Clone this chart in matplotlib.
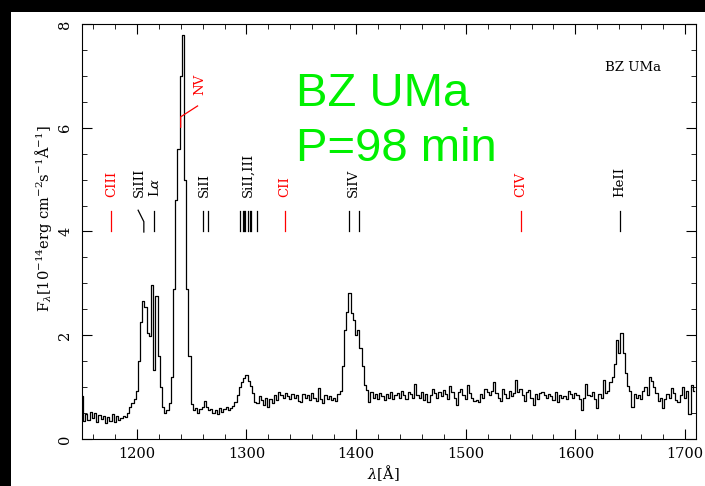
import numpy as np
import matplotlib
matplotlib.use("Agg")
import matplotlib.pyplot as plt
from matplotlib.patches import Rectangle

plt.rcParams['font.family'] = ['DejaVu Serif']
plt.rcParams['mathtext.fontset'] = 'dejavuserif'

# spectrum sampled every 2 A from 1150 A
wave_start = 1150.0
wave_step = 2.0
flux = [
    0.82, 0.34, 0.48, 0.36, 0.52, 0.40, 0.50, 0.33, 0.46, 0.38,   # 1150
    0.44, 0.30, 0.42, 0.35, 0.48, 0.32, 0.45, 0.36, 0.40, 0.44,   # 1170
    0.42, 0.50, 0.62, 0.70, 0.78, 0.92, 1.50, 2.25, 2.66, 2.55,   # 1190
    2.05, 1.98, 2.97, 1.33, 2.76, 1.60, 1.00, 0.62, 0.50, 0.55,   # 1210
    0.70, 1.20, 2.90, 4.60, 5.60, 7.00, 7.78, 5.00, 2.90, 1.60,   # 1230
    0.68, 0.55, 0.60, 0.50, 0.58, 0.62, 0.74, 0.62, 0.55, 0.58,   # 1250
    0.50, 0.56, 0.48, 0.60, 0.52, 0.58, 0.62, 0.55, 0.60, 0.64,   # 1270
    0.72, 0.85, 1.00, 1.10, 1.18, 1.24, 1.12, 1.02, 0.88, 0.72,   # 1290
    0.70, 0.82, 0.75, 0.66, 0.80, 0.62, 0.78, 0.70, 0.84, 0.76,   # 1310
    0.90, 0.85, 0.80, 0.88, 0.83, 0.78, 0.86, 0.80, 0.84, 0.74,   # 1330
    0.72, 0.86, 0.80, 0.84, 0.76, 0.88, 0.80, 0.74, 0.98, 0.78,   # 1350
    0.70, 0.84, 0.78, 0.82, 0.76, 0.80, 0.74, 0.86, 0.92, 1.40,   # 1370
    2.10, 2.45, 2.82, 2.42, 2.30, 2.00, 2.10, 1.75, 1.40, 1.05,   # 1390
    0.95, 0.72, 0.90, 0.80, 0.86, 0.78, 0.88, 0.82, 0.76, 0.86,   # 1410
    0.80, 0.90, 0.78, 0.84, 0.88, 0.80, 0.92, 0.84, 0.78, 0.90,   # 1430
    0.86, 0.80, 1.06, 0.84, 0.80, 0.90, 0.76, 0.86, 0.72, 0.84,   # 1450
    0.96, 0.88, 0.80, 0.90, 0.82, 0.94, 0.86, 0.78, 1.02, 0.90,   # 1470
    0.80, 0.66, 0.90, 0.96, 0.84, 0.78, 1.04, 0.88, 0.80, 0.74,   # 1490
    0.76, 0.72, 0.86, 0.80, 0.96, 0.90, 0.84, 0.92, 1.10, 0.88,   # 1510
    0.80, 0.74, 0.96, 0.86, 0.80, 0.92, 0.82, 0.88, 1.14, 0.90,   # 1530
    0.96, 0.84, 0.74, 0.90, 0.94, 0.80, 0.66, 0.86, 0.78, 0.88,   # 1550
    0.90, 0.84, 0.80, 0.86, 0.82, 0.76, 0.90, 0.72, 0.84, 0.80,   # 1570
    0.82, 0.78, 0.92, 0.86, 0.80, 0.88, 0.84, 0.78, 0.56, 0.80,   # 1590
    1.06, 0.84, 0.82, 0.90, 0.78, 0.60, 0.86, 0.80, 1.14, 0.88,   # 1610
    0.92, 1.10, 1.20, 1.45, 1.90, 1.66, 2.04, 1.66, 1.28, 1.02,   # 1630
    0.92, 0.62, 0.86, 0.80, 0.84, 0.78, 0.92, 1.00, 0.84, 1.20,   # 1650
    1.12, 1.00, 0.88, 0.74, 0.80, 0.60, 0.78, 0.86, 0.80, 0.98,   # 1670
    0.88, 0.76, 0.72, 0.84, 1.00, 0.80, 0.92, 0.48, 1.04, 0.92,   # 1690
]
wave = wave_start + wave_step * np.arange(len(flux))

# line identifications: label, label position, line positions, colour
ion_labels = ['CIII', 'SiIII', r'L$\alpha$', 'SiII', 'SiII,III', 'CII', 'SiIV', 'CIV', 'HeII']
ion_label_x = [1176.9, 1202.0, 1216.4, 1262.0, 1301.7, 1334.5, 1397.6, 1550.0, 1640.0]
ion_lines = [[1176.0], [], [1215.7], [1260.4, 1264.7],
             [1294.5, 1296.7, 1298.0, 1298.9, 1301.1, 1303.3, 1304.4, 1309.3],
             [1335.0], [1393.8, 1402.8], [1550.0], [1640.4]]
ion_colors = ['red', 'black', 'black', 'black', 'black', 'red', 'black', 'red', 'black']
# Si III 1206 drawn with a bent marker
siiii_x = [1201.2, 1206.4, 1206.4]
siiii_y = [4.41, 4.19, 3.99]
# N V marker with a leader
nv_x = [1240.0, 1240.0, 1255.4]
nv_y = [6.01, 6.21, 6.42]

fig = plt.figure(figsize=(7.05, 4.86), dpi=100, facecolor='black')
fig.patches.append(Rectangle((11 / 705, 0), 1, (486 - 12) / 486, transform=fig.transFigure,
                             facecolor='white', edgecolor='none', zorder=-10))
ax = fig.add_axes([82 / 705, 1 - 439 / 486, 614 / 705, 415 / 486])
ax.set_zorder(1)

ax.step(wave, flux, where='mid', color='black', lw=0.9)

for lab, lx, lines, col in zip(ion_labels, ion_label_x, ion_lines, ion_colors):
    for x in lines:
        ax.plot([x, x], [4.0, 4.4], color=col, lw=0.9)
    ax.text(lx, 4.66, lab, rotation=90, ha='center', va='bottom', color=col, fontsize=9.5)
ax.plot(siiii_x, siiii_y, color='black', lw=0.9)
ax.plot(nv_x, nv_y, color='red', lw=0.9)
ax.text(1257.0, 6.63, 'NV', rotation=90, ha='center', va='bottom',
        color='red', fontsize=9.5)

ax.text(1653, 7.17, 'BZ UMa', ha='center', va='center', fontsize=9.5)
ax.text(1345, 6.42, 'BZ UMa', color='#00f000', fontsize=34, family='Liberation Sans',
        ha='left', va='baseline')
ax.text(1345, 5.36, 'P=98 min', color='#00f000', fontsize=34, family='Liberation Sans',
        ha='left', va='baseline')

ax.set_xlim(1150, 1710)
ax.set_ylim(0, 8)
ax.set_xticks([1200, 1300, 1400, 1500, 1600, 1700])
ax.set_xticks(np.arange(1160, 1710, 20), minor=True)
ax.set_yticks([0, 2, 4, 6, 8])
ax.set_yticks(np.arange(0, 8.01, 0.5), minor=True)
ax.tick_params(which='both', direction='in', top=True, right=True, labelsize=10.5)
ax.tick_params(which='major', length=7)
ax.tick_params(which='minor', length=3.5)
ax.tick_params(axis='x', pad=6)
ax.tick_params(axis='y', pad=7)
for t in ax.get_yticklabels():
    t.set_rotation(90)
    t.set_va('center')

ax.text(-0.063, 0.53, r'F$_\lambda$[10$^{-14}$erg cm$^{-2}$s$^{-1}$Å$^{-1}$]',
        transform=ax.transAxes, rotation=90, ha='center', va='center', fontsize=10.5)
ax.text(0.49, -0.082, r'$\lambda$[Å]', transform=ax.transAxes, ha='center', va='center',
        fontsize=10.5)

fig.savefig('out.png', dpi=100, facecolor=fig.get_facecolor())
